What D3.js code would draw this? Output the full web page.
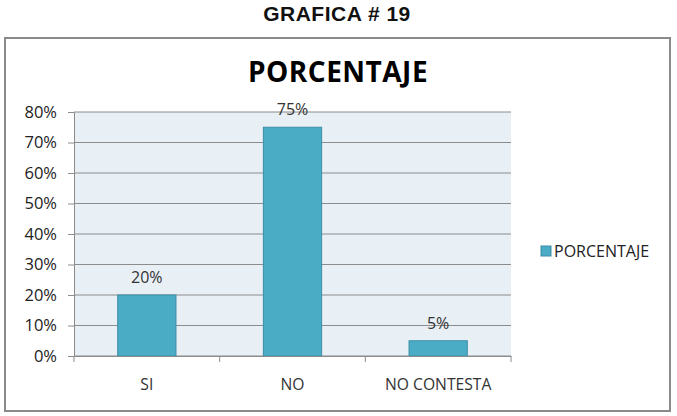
<!DOCTYPE html>
<html>
<head>
<meta charset="utf-8">
<script src="https://cdn.jsdelivr.net/npm/d3@7"></script>
<style>
  body { margin: 0; background: #fff; }
  svg { display: block; }
</style>
</head>
<body>
<svg id="chart"></svg>
<script>
// Data
const categories = ["SI", "NO", "NO CONTESTA"];
const values = [0.20, 0.75, 0.05];
const yTicks = [0, 0.1, 0.2, 0.3, 0.4, 0.5, 0.6, 0.7, 0.8];
const seriesName = "PORCENTAJE";

const width = 677, height = 416;
const svg = d3.select("#chart").attr("width", width).attr("height", height);

const plot = { left: 74, right: 511, top: 112, bottom: 356 };
const font = "'Open Sans', Lato, sans-serif";
const barColor = "#4bacc6";
const pct = d3.format(".0%");

// Page heading
svg.append("text")
    .attr("x", 337).attr("y", 21)
    .attr("text-anchor", "middle")
    .attr("font-family", "'Liberation Sans', Arial, sans-serif")
    .attr("font-weight", "bold")
    .attr("font-size", 21)
    .attr("letter-spacing", 0.5)
    .attr("fill", "#111")
    .text("GRAFICA # 19");

// Chart frame
svg.append("rect")
    .attr("x", 5).attr("y", 38)
    .attr("width", 665).attr("height", 373)
    .attr("fill", "#fff")
    .attr("stroke", "#8a8a8a")
    .attr("stroke-width", 2);

svg.append("text")
    .attr("x", 338).attr("y", 82)
    .attr("text-anchor", "middle")
    .attr("font-family", font)
    .attr("font-weight", "bold")
    .attr("font-size", 28)
    .attr("letter-spacing", 0.5)
    .attr("fill", "#000")
    .text("PORCENTAJE");

// Scales
const x = d3.scaleBand()
    .domain(categories)
    .range([plot.left, plot.right])
    .paddingInner(0.6)
    .paddingOuter(0.3);

const y = d3.scaleLinear()
    .domain([0, 0.8])
    .range([plot.bottom, plot.top]);

// Plot background
svg.append("rect")
    .attr("x", plot.left).attr("y", plot.top)
    .attr("width", plot.right - plot.left)
    .attr("height", plot.bottom - plot.top)
    .attr("fill", "#e8eff5");

// Gridlines
svg.append("g")
    .selectAll("line")
    .data(yTicks)
    .join("line")
    .attr("x1", plot.left).attr("x2", plot.right)
    .attr("y1", d => y(d)).attr("y2", d => y(d))
    .attr("stroke", "#8c8c8c")
    .attr("stroke-width", 1);

// Y axis
const yAxis = svg.append("g")
    .attr("transform", `translate(${plot.left},0)`)
    .call(d3.axisLeft(y).tickValues(yTicks).tickFormat(pct).tickSize(6).tickPadding(11));
yAxis.select(".domain").attr("stroke", "#8c8c8c");
yAxis.selectAll(".tick line").attr("stroke", "#8c8c8c");
yAxis.selectAll("text")
    .attr("font-family", font)
    .attr("font-size", 16.5)
    .attr("fill", "#222");

// Bars
svg.append("g")
    .selectAll("rect")
    .data(values)
    .join("rect")
    .attr("x", (d, i) => x(categories[i]))
    .attr("y", d => y(d))
    .attr("width", x.bandwidth())
    .attr("height", d => y(0) - y(d))
    .attr("fill", barColor)
    .attr("stroke", "#3b8ea5")
    .attr("stroke-width", 1);

// Value labels
svg.append("g")
    .selectAll("text")
    .data(values)
    .join("text")
    .attr("x", (d, i) => x(categories[i]) + x.bandwidth() / 2)
    .attr("y", d => y(d) - 12)
    .attr("text-anchor", "middle")
    .attr("font-family", font)
    .attr("font-size", 16)
    .attr("fill", "#333")
    .text(d => pct(d));

// X axis
const xAxis = svg.append("g")
    .attr("transform", `translate(0,${plot.bottom})`)
    .call(d3.axisBottom(x).tickSize(0).tickPadding(23));
xAxis.select(".domain").attr("stroke", "#8c8c8c");
xAxis.selectAll("text")
    .attr("font-family", font)
    .attr("font-size", 15.7)
    .attr("fill", "#333");

// category separators
const bounds = [plot.left].concat(categories.map((d, i) => plot.left + x.step() * (i + 1)));
svg.append("g")
    .selectAll("line")
    .data(bounds)
    .join("line")
    .attr("x1", d => d).attr("x2", d => d)
    .attr("y1", plot.bottom).attr("y2", plot.bottom + 6)
    .attr("stroke", "#8c8c8c");

// Legend
const legend = svg.append("g").attr("transform", "translate(541,246)");
legend.append("rect")
    .attr("width", 10).attr("height", 10)
    .attr("fill", barColor)
    .attr("stroke", "#3b8ea5");
legend.append("text")
    .attr("x", 13).attr("y", 11)
    .attr("font-family", font)
    .attr("font-size", 16)
    .attr("fill", "#222")
    .text(seriesName);
</script>
</body>
</html>
